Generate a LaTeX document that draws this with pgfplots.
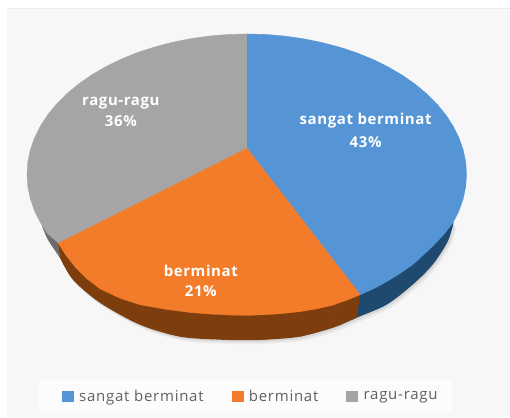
\documentclass[border=0pt]{standalone}
\usepackage{pgfplots}
\pgfplotsset{compat=1.18}
\usepackage{pgfplotstable}
\usepackage{fontspec}
\setmainfont{Open Sans}
\definecolor{panel}{HTML}{F7F7F7}
\definecolor{cblue}{HTML}{5695D5}
\definecolor{corange}{HTML}{F27C2A}
\definecolor{cgray}{HTML}{A5A5A5}
\definecolor{dblue}{HTML}{1F4A70}
\definecolor{dorange}{HTML}{7E3D0C}
\definecolor{dgray}{HTML}{6A6A6A}
\pgfplotstableread{
x y
42 192
48 178
60 160
73 138
100 115
140 93
180 81
220 78
250 77.5
267 78
300 81
333 90
357 100
387 113
413 133
433 153
448 176
454 195
}\outline
\begin{document}
\begin{tikzpicture}
\begin{axis}[
  scale only axis, width=510pt, height=418pt,
  xmin=0, xmax=510, ymin=0, ymax=418,
  axis lines=none, clip=false,
  legend style={at={(axis cs:251.5,21)}, anchor=center, draw=none, fill=none,
    legend columns=3, font=\fontsize{15}{17}\selectfont\addfontfeature{LetterSpace=5}, text=black!62,
    /tikz/every even column/.append style={column sep=25pt},
    inner sep=0pt, nodes={inner xsep=3pt}},
  legend image code/.code={\fill[#1] (0pt,-5pt) rectangle (11pt,5pt);},
]
% page, background panel and legend box
\fill[white] (axis cs:0,0) rectangle (axis cs:510,418);
\fill[panel] (axis cs:7,1) rectangle (axis cs:510,409);
\draw[black!8, line width=1pt] (axis cs:7,409) -- (axis cs:510,409);
\fill[white!60!panel] (axis cs:39,5) rectangle (axis cs:452,38);
% soft shadow below the pie
\addplot[forget plot, smooth, fill=black, fill opacity=0.05, draw=none, xshift=3pt, yshift=-4pt] table[x=x,y=y] {\outline};
\addplot[forget plot, smooth, fill=black, fill opacity=0.08, draw=none, xshift=1.5pt, yshift=-2pt] table[x=x,y=y] {\outline};
% side wall
\addplot[forget plot, smooth, fill=dgray, draw=none] coordinates {(42,192)(48,178)(60,160)};
\addplot[forget plot, fill=dgray, draw=none] coordinates {(42,192)(60,160)(58,175)};
\addplot[forget plot, smooth, fill=dblue, draw=none] coordinates {(300,81)(333,90)(357,100)(387,113)(413,133)(433,153)(448,176)(454,195)};
\addplot[forget plot, fill=dblue, draw=none] coordinates {(340,92)(360.5,123)(454,195)};
\addplot[forget plot, smooth, fill=dorange, draw=none] coordinates {(60,160)(73,138)(100,115)(140,93)(180,81)(220,78)(250,77.5)(267,78)(300,81)(333,90)(357,100)};
\addplot[forget plot, fill=dorange, draw=none] coordinates {(357,100)(360.5,123)(200,130)};
\addplot[forget plot, fill=dorange, draw=none] coordinates {(60,160)(58,175)(100,140)};
% top face: sangat berminat 43
\addplot[fill=cblue, draw=cblue, line width=0.3pt] coordinates {
 (247,270)(247,384)(266.2,383.5)(285.2,381.9)(303.9,379.2)(322.2,375.5)(340,370.8)(357,365.2)
 (373.2,358.6)(388.4,351.1)(402.6,342.8)(415.5,333.8)(427.2,324.1)(437.5,313.8)(446.4,302.9)
 (453.7,291.6)(459.5,279.9)(463.7,267.9)(466.2,255.7)(467,243.5)(466.2,231.3)(463.7,219.1)
 (459.5,207.1)(453.7,195.4)(444,183)(433,171.5)(423,162)(413,153)(400,144)(387,136)(374,129)(360.5,123)(247,270)};
\addlegendentry{\hspace{3pt}sangat berminat}
% top face: berminat 21
\addplot[fill=corange, draw=corange, line width=0.3pt] coordinates {
 (247,270)(360.5,123)(347,117.5)(333,112.5)(317,108.8)(300,106)(283,104.2)(267,103)(250,102.4)
 (233,102.5)(212,103.5)(190,105.2)(165,108.5)(140,113)(120,119.5)(100,129)(87,139)(75,151)(66,162.5)(58,175)(247,270)};
\addlegendentry{\hspace{3pt}berminat}
% top face: ragu-ragu 36
\addplot[fill=cgray, draw=cgray, line width=0.3pt] coordinates {
 (247,270)(58,175)(47.6,184.1)(40.3,195.4)(34.5,207.1)(30.3,219.1)(27.8,231.3)(27,243.5)(27.8,255.7)
 (30.3,267.9)(34.5,279.9)(40.3,291.6)(47.6,302.9)(56.5,313.8)(66.8,324.1)(78.5,333.8)(91.4,342.8)
 (105.6,351.1)(120.8,358.6)(137,365.2)(154,370.8)(171.8,375.5)(190.1,379.2)(208.8,381.9)(227.8,383.5)(247,384)(247,270)};
\addlegendentry{\hspace{3pt}ragu-ragu}
% data labels
\tikzset{lab/.style={text=white, font=\fontsize{15}{17}\selectfont\bfseries\addfontfeature{LetterSpace=4}, anchor=center, inner sep=0pt}}
\node[lab] at (axis cs:366,297) {sangat berminat};
\node[lab] at (axis cs:366,276) {43\%};
\node[lab] at (axis cs:121,315) {ragu-ragu};
\node[lab] at (axis cs:121,297) {36\%};
\node[lab] at (axis cs:201,147) {berminat};
\node[lab] at (axis cs:201,127) {21\%};
\end{axis}
\end{tikzpicture}
\end{document}
